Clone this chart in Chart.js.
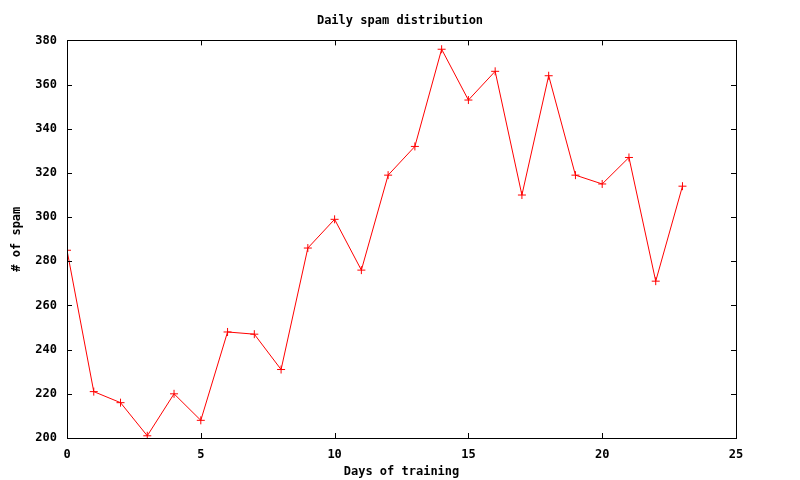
<!DOCTYPE html>
<html>
<head>
<meta charset="utf-8">
<title>Daily spam distribution</title>
<script src="https://cdn.jsdelivr.net/npm/chart.js@4"></script>
<style>
  html, body { margin: 0; padding: 0; background: #fff; }
  #chart { display: block; }
</style>
</head>
<body>
<canvas id="chart" width="800" height="480"></canvas>
<script>
const DAYS = [0, 1, 2, 3, 4, 5, 6, 7, 8, 9, 10, 11, 12, 13, 14, 15, 16, 17, 18, 19, 20, 21, 22, 23];
const SPAM = [285, 221, 216, 201, 220, 208, 248, 247, 231, 286, 299, 276, 319, 332, 376, 353, 366, 310, 364, 319, 315, 327, 271, 314];

const X_MIN = 0, X_MAX = 25, X_STEP = 5;
const Y_MIN = 200, Y_MAX = 380, Y_STEP = 20;

const FONT = { family: '"DejaVu Sans Mono", "Liberation Mono", monospace', size: 12, weight: 'bold' };

// gnuplot style: box around the plot, ticks pointing inwards on all four sides
const gnuplotFrame = {
  id: 'gnuplotFrame',
  afterDraw(chart) {
    const { ctx, chartArea: a, scales } = chart;
    const len = 5;
    ctx.save();
    ctx.strokeStyle = '#000';
    ctx.lineWidth = 1;
    ctx.beginPath();
    scales.x.ticks.forEach((t) => {
      const px = Math.round(scales.x.getPixelForValue(t.value)) + 0.5;
      ctx.moveTo(px, a.bottom); ctx.lineTo(px, a.bottom - len);
      ctx.moveTo(px, a.top); ctx.lineTo(px, a.top + len);
    });
    scales.y.ticks.forEach((t) => {
      const py = Math.round(scales.y.getPixelForValue(t.value)) + 0.5;
      ctx.moveTo(a.left, py); ctx.lineTo(a.left + len, py);
      ctx.moveTo(a.right, py); ctx.lineTo(a.right - len, py);
    });
    ctx.stroke();
    ctx.strokeRect(Math.round(a.left) + 0.5, Math.round(a.top) + 0.5,
      Math.round(a.right - a.left), Math.round(a.bottom - a.top));
    ctx.restore();
  },
};

new Chart(document.getElementById('chart'), {
  type: 'line',
  data: {
    datasets: [{
      data: DAYS.map((d, i) => ({ x: d, y: SPAM[i] })),
      borderColor: '#ff0000',
      borderWidth: 1,
      tension: 0,
      pointStyle: 'cross',
      pointRadius: 4,
      pointBorderWidth: 1,
      pointBorderColor: '#ff0000',
      pointBackgroundColor: '#ff0000',
      fill: false,
    }],
  },
  options: {
    responsive: false,
    animation: false,
    layout: { padding: 0 },
    plugins: {
      legend: { display: false },
      tooltip: { enabled: false },
      title: {
        display: true,
        text: 'Daily spam distribution',
        color: '#000',
        font: FONT,
        padding: { top: 14, bottom: 12 },
      },
    },
    scales: {
      x: {
        type: 'linear',
        min: X_MIN,
        max: X_MAX,
        grid: { display: false, drawTicks: false },
        border: { display: false },
        ticks: { stepSize: X_STEP, color: '#000', font: FONT, padding: 10, maxRotation: 0 },
        title: { display: true, text: 'Days of training', color: '#000', font: FONT, padding: { top: 0, bottom: 1 } },
        afterFit(scale) { scale.height = 42; },
      },
      y: {
        min: Y_MIN,
        max: Y_MAX,
        grid: { display: false, drawTicks: false },
        border: { display: false },
        ticks: { stepSize: Y_STEP, color: '#000', font: FONT, padding: 10 },
        title: { display: true, text: '# of spam', color: '#000', font: FONT, padding: { top: 10, bottom: 0 } },
        afterFit(scale) { scale.width = 67; },
      },
      // empty right margin, so the title stays centred on the whole canvas
      yRight: {
        position: 'right',
        min: Y_MIN,
        max: Y_MAX,
        grid: { display: false, drawTicks: false },
        border: { display: false },
        ticks: { display: false },
        afterFit(scale) { scale.width = 64; },
      },
    },
  },
  plugins: [gnuplotFrame],
});
</script>
</body>
</html>
